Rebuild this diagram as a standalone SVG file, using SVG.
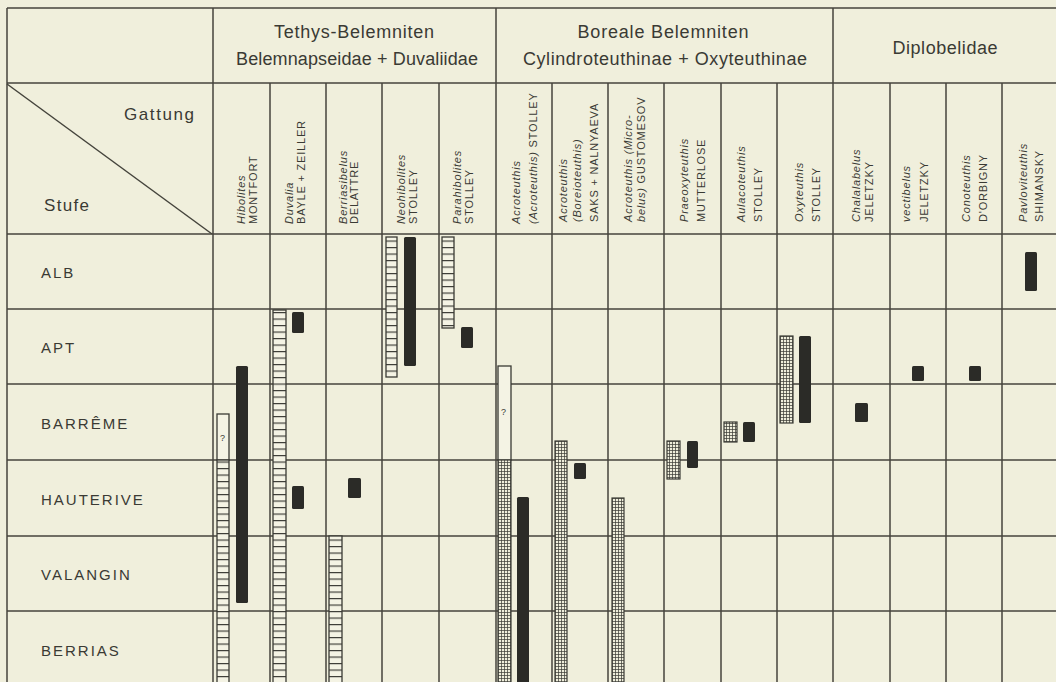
<svg xmlns="http://www.w3.org/2000/svg" width="1056" height="682" viewBox="0 0 1056 682">
<defs>
<style>
.bg{fill:#f0efdc}
.ln{stroke:#45443c;stroke-width:1.5;fill:none}
.t{font-family:"Liberation Sans",Arial,sans-serif;fill:#3a3a34}
.hd{font-size:18px}
.st{font-size:15px;letter-spacing:2px}
.vl{font-size:11px;letter-spacing:0.8px}
.it{font-style:italic}
.blk{fill:#2b2b27}
.lad{fill:url(#ladder);stroke:#3a3a34;stroke-width:1.3}
.grd{fill:url(#grid);stroke:#3a3a34;stroke-width:1.2}
.opn{fill:#f4f3e4;stroke:#3a3a34;stroke-width:1.3}
</style>
<pattern id="ladder" patternUnits="userSpaceOnUse" width="40" height="6.5">
<rect width="40" height="6.5" fill="#f4f3e4"/>
<line x1="0" y1="0.5" x2="40" y2="0.5" stroke="#3a3a34" stroke-width="1.1"/>
</pattern>
<pattern id="grid" patternUnits="userSpaceOnUse" width="3" height="3">
<rect width="3" height="3" fill="#efeedb"/>
<path d="M0 0.4H3M0.4 0V3" stroke="#3a3a34" stroke-width="0.8"/>
</pattern>
</defs>
<rect class="bg" width="1056" height="682"/>

<g id="connectors">
<path class="ln" d="M7 8H1056M7 83H1056M7 234H1056M7 309H1056M7 384H1056M7 460H1056M7 536H1056M7 611H1056"/>
<path class="ln" d="M7 8V682M213 8V682M496 8V682M833 8V682"/>
<path class="ln" d="M270 83V682M326 83V682M382 83V682M439 83V682M552 83V682M608 83V682M664 83V682M721 83V682M777 83V682M890 83V682M946 83V682M1002 83V682"/>
<path class="ln" d="M7 84L212 234"/>
</g>

<g id="headers">
<text class="t hd" x="354" y="38" text-anchor="middle" textLength="160" lengthAdjust="spacing">Tethys-Belemniten</text>
<text class="t hd" x="357" y="65" text-anchor="middle" textLength="242" lengthAdjust="spacing">Belemnapseidae + Duvaliidae</text>
<text class="t hd" x="663" y="38" text-anchor="middle" textLength="171" lengthAdjust="spacing">Boreale Belemniten</text>
<text class="t hd" x="665" y="65" text-anchor="middle" textLength="284" lengthAdjust="spacing">Cylindroteuthinae + Oxyteuthinae</text>
<text class="t hd" x="945" y="54" text-anchor="middle" textLength="105" lengthAdjust="spacing">Diplobelidae</text>
<text class="t" x="124" y="120" font-size="17" textLength="70" lengthAdjust="spacing">Gattung</text>
<text class="t" x="44" y="211" font-size="17" textLength="45" lengthAdjust="spacing">Stufe</text>
</g>

<g id="stages">
<text class="t st" x="41" y="278">ALB</text>
<text class="t st" x="41" y="353">APT</text>
<text class="t st" x="41" y="429">BARRÊME</text>
<text class="t st" x="41" y="505">HAUTERIVE</text>
<text class="t st" x="41" y="580">VALANGIN</text>
<text class="t st" x="41" y="656">BERRIAS</text>
</g>

<g id="col-hibolites">
<text class="t vl it" transform="translate(245,224) rotate(-90)">Hibolites</text>
<text class="t vl" transform="translate(257,224) rotate(-90)">MONTFORT</text>
<rect class="opn" x="217" y="414" width="12" height="46"/>
<text class="t" x="220" y="441" font-size="9">?</text>
<rect class="lad" x="217" y="460" width="12" height="230"/>
<rect class="blk" x="236" y="366" width="12" height="237" rx="1.5"/>
</g>
<g id="col-duvalia">
<text class="t vl it" transform="translate(293,224) rotate(-90)">Duvalia</text>
<text class="t vl" transform="translate(305,224) rotate(-90)">BAYLE + ZEILLER</text>
<rect class="lad" x="273" y="310" width="13" height="380"/>
<rect class="blk" x="292" y="312" width="12" height="21" rx="1.5"/>
<rect class="blk" x="292" y="486" width="12" height="23" rx="1.5"/>
</g>
<g id="col-berriasibelus">
<text class="t vl it" transform="translate(347,224) rotate(-90)">Berriasibelus</text>
<text class="t vl" transform="translate(358,224) rotate(-90)">DELATTRE</text>
<rect class="blk" x="348" y="478" width="13" height="20" rx="1.5"/>
<rect class="lad" x="329" y="536" width="13" height="150"/>
</g>
<g id="col-neohibolites">
<text class="t vl it" transform="translate(405,224) rotate(-90)">Neohibolites</text>
<text class="t vl" transform="translate(417,224) rotate(-90)">STOLLEY</text>
<rect class="lad" x="386" y="237" width="11" height="140"/>
<rect class="blk" x="404" y="237" width="12" height="129" rx="1.5"/>
</g>
<g id="col-parahibolites">
<text class="t vl it" transform="translate(461,224) rotate(-90)">Parahibolites</text>
<text class="t vl" transform="translate(473,224) rotate(-90)">STOLLEY</text>
<rect class="lad" x="442" y="237" width="12" height="91"/>
<rect class="blk" x="461" y="327" width="12" height="21" rx="1.5"/>
</g>
<g id="col-acroteuthis">
<text class="t vl it" transform="translate(520,224) rotate(-90)">Acroteuthis</text>
<text class="t vl" transform="translate(537,224) rotate(-90)"><tspan class="it">(Acroteuthis)</tspan> STOLLEY</text>
<rect class="opn" x="498" y="366" width="13" height="94"/>
<text class="t" x="501" y="415" font-size="9">?</text>
<rect class="grd" x="498" y="460" width="13" height="230"/>
<rect class="blk" x="517" y="497" width="12" height="190" rx="1.5"/>
</g>
<g id="col-boreioteuthis">
<text class="t vl it" transform="translate(567,222) rotate(-90)">Acroteuthis</text>
<text class="t vl it" transform="translate(581,222) rotate(-90)">(Boreioteuthis)</text>
<text class="t vl" transform="translate(598,222) rotate(-90)">SAKS + NALNYAEVA</text>
<rect class="grd" x="555" y="441" width="12" height="250"/>
<rect class="blk" x="574" y="463" width="12" height="16" rx="1.5"/>
</g>
<g id="col-microbelus">
<text class="t vl it" transform="translate(632,222) rotate(-90)">Acroteuthis (Micro-</text>
<text class="t vl" transform="translate(645,222) rotate(-90)"><tspan class="it">belus)</tspan> GUSTOMESOV</text>
<rect class="grd" x="612" y="498" width="12" height="190"/>
</g>
<g id="col-praeoxyteuthis">
<text class="t vl it" transform="translate(688,222) rotate(-90)">Praeoxyteuthis</text>
<text class="t vl" transform="translate(705,222) rotate(-90)">MUTTERLOSE</text>
<rect class="grd" x="667" y="441" width="13" height="38"/>
<rect class="blk" x="687" y="441" width="11" height="27" rx="1.5"/>
</g>
<g id="col-aulacoteuthis">
<text class="t vl it" transform="translate(745,222) rotate(-90)">Aulacoteuthis</text>
<text class="t vl" transform="translate(762,222) rotate(-90)">STOLLEY</text>
<rect class="grd" x="724" y="422" width="13" height="20"/>
<rect class="blk" x="743" y="422" width="12" height="20" rx="1.5"/>
</g>
<g id="col-oxyteuthis">
<text class="t vl it" transform="translate(803,222) rotate(-90)">Oxyteuthis</text>
<text class="t vl" transform="translate(820,222) rotate(-90)">STOLLEY</text>
<rect class="grd" x="780" y="336" width="13" height="87"/>
<rect class="blk" x="799" y="336" width="12" height="87" rx="1.5"/>
</g>
<g id="col-chalalabelus">
<text class="t vl it" transform="translate(860,222) rotate(-90)">Chalalabelus</text>
<text class="t vl" transform="translate(873,222) rotate(-90)">JELETZKY</text>
<rect class="blk" x="855" y="403" width="13" height="19" rx="1.5"/>
</g>
<g id="col-vectibelus">
<text class="t vl it" transform="translate(910,222) rotate(-90)">vectibelus</text>
<text class="t vl" transform="translate(928,222) rotate(-90)">JELETZKY</text>
<rect class="blk" x="912" y="366" width="12" height="15" rx="1.5"/>
</g>
<g id="col-conoteuthis">
<text class="t vl it" transform="translate(970,222) rotate(-90)">Conoteuthis</text>
<text class="t vl" transform="translate(987,222) rotate(-90)">D'ORBIGNY</text>
<rect class="blk" x="969" y="366" width="12" height="15" rx="1.5"/>
</g>
<g id="col-pavloviteuthis">
<text class="t vl it" transform="translate(1027,222) rotate(-90)">Pavloviteuthis</text>
<text class="t vl" transform="translate(1043,222) rotate(-90)">SHIMANSKY</text>
<rect class="blk" x="1025" y="252" width="12" height="39" rx="1.5"/>
</g>
</svg>
